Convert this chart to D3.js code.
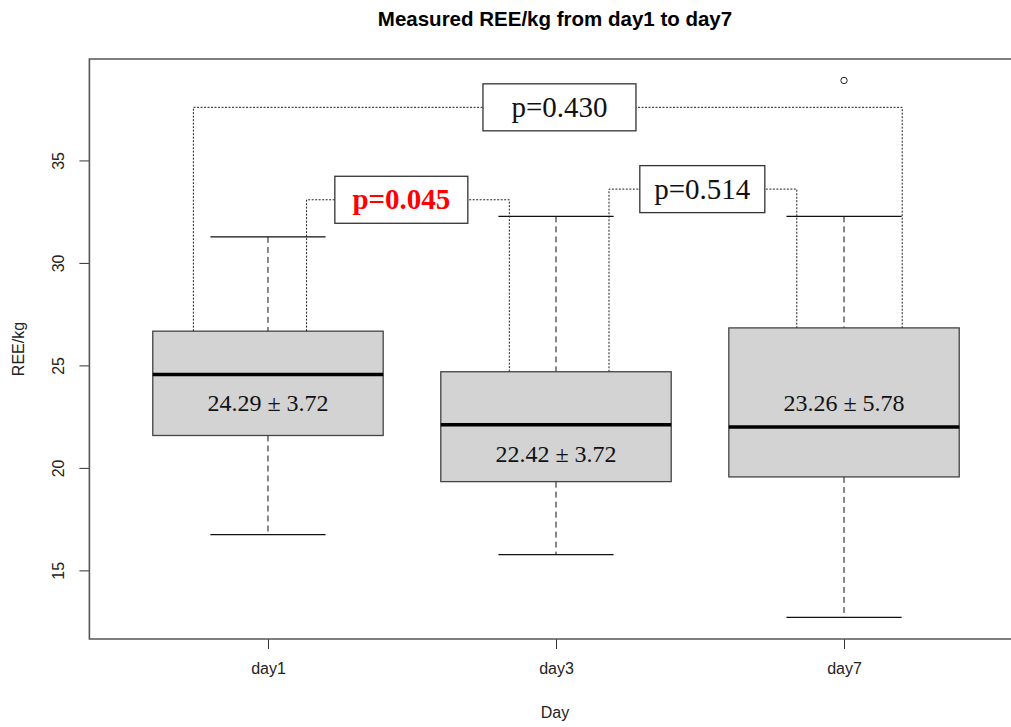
<!DOCTYPE html>
<html>
<head>
<meta charset="utf-8">
<script src="https://cdn.jsdelivr.net/npm/d3@7"></script>
<style>
  body { margin: 0; background: #fff; overflow: hidden; }
  svg { display: block; }
</style>
</head>
<body>
<div id="chart"></div>
<script>
// values
const days = ["day1", "day3", "day7"];
const whiskerLow = [16.74, 15.77, 12.71];
const q1 = [21.58, 19.33, 19.56];
const medians = [24.55, 22.10, 22.00];
const q3 = [26.67, 24.69, 26.83];
const whiskerHigh = [31.27, 32.27, 32.27];
const outliers = [[], [], [38.9]];
const meanSd = ["24.29 \u00b1 3.72", "22.42 \u00b1 3.72", "23.26 \u00b1 5.78"];
const meanSdAt = [23.17, 20.72, 23.2];

// pairwise comparisons
const pairs = [[0, 1], [1, 2], [0, 2]];
const pValues = ["p=0.045", "p=0.514", "p=0.430"];
const significant = [true, false, false];
const bracketY = [33.08, 33.60, 37.59];
const legX = [[1.134, 1.838], [2.184, 2.836], [0.741, 3.202]];
const labelX = [1.463, 2.508, 2.012];
const yTicks = [15, 20, 25, 30, 35];

const W = 1011, H = 727;
const svg = d3.select("#chart").append("svg")
  .attr("width", W).attr("height", H)
  .style("font-family", "'Liberation Sans', Arial, sans-serif");

// R style: xlim 0.5..3.5 stretched by 4%
const x = d3.scaleLinear().domain([0.38, 3.62]).range([89.4, 1022.6]);
const y = d3.scaleLinear().domain([11.652, 39.948]).range([639, 59]);
const unit = x(2) - x(1);
const boxW = 0.8 * unit;
const capW = 0.4 * unit;

// title
svg.append("text")
  .attr("x", 555).attr("y", 26)
  .attr("text-anchor", "middle")
  .style("font-weight", "bold").style("font-size", "20.5px")
  .text("Measured REE/kg from day1 to day7");

// axes
const yAxis = d3.axisLeft(y).tickValues(yTicks).tickSize(10).tickPadding(8);
const gy = svg.append("g").attr("transform", `translate(${x.range()[0]},0)`).call(yAxis);
gy.select(".domain").remove();
gy.selectAll(".tick line").attr("stroke", "#333");
gy.selectAll(".tick text")
  .attr("transform", "rotate(-90)")
  .attr("x", 0).attr("y", -31)
  .attr("dy", "0.35em")
  .attr("text-anchor", "middle")
  .style("font-size", "16px").style("font-family", "'Liberation Sans', Arial, sans-serif")
  .attr("fill", "#222");

const xAxis = d3.axisBottom(x).tickValues([1, 2, 3]).tickFormat((d, i) => days[i]).tickSize(10).tickPadding(14);
const gx = svg.append("g").attr("transform", `translate(0,${y.range()[0]})`).call(xAxis);
gx.select(".domain").remove();
gx.selectAll(".tick line").attr("stroke", "#333");
gx.selectAll(".tick text")
  .style("font-size", "16px").style("font-family", "'Liberation Sans', Arial, sans-serif")
  .attr("fill", "#222");

svg.append("text")
  .attr("x", 555).attr("y", 718)
  .attr("text-anchor", "middle")
  .style("font-size", "16px").attr("fill", "#222")
  .text("Day");

svg.append("text")
  .attr("transform", "translate(24,349) rotate(-90)")
  .attr("text-anchor", "middle")
  .style("font-size", "16px").attr("fill", "#222")
  .text("REE/kg");

// plot frame (right side falls outside the window)
const [fx0, fx1] = x.range();
const [fy1, fy0] = y.range();
svg.append("path")
  .attr("d", `M${fx1},${fy0}H${fx0}V${fy1}H${fx1}`)
  .attr("fill", "none").attr("stroke", "#555").attr("stroke-width", 1.6);

// boxes
const box = svg.selectAll(".box")
  .data(days)
  .join("g")
  .attr("class", "box");

box.each(function(d, i) {
  const g = d3.select(this);
  const cx = x(i + 1);

  // whiskers
  g.append("line")
    .attr("x1", cx).attr("x2", cx)
    .attr("y1", y(whiskerHigh[i])).attr("y2", y(q3[i]))
    .attr("stroke", "#111").attr("stroke-dasharray", "6,4");
  g.append("line")
    .attr("x1", cx).attr("x2", cx)
    .attr("y1", y(q1[i])).attr("y2", y(whiskerLow[i]))
    .attr("stroke", "#111").attr("stroke-dasharray", "6,4");
  [whiskerHigh[i], whiskerLow[i]].forEach(v => {
    g.append("line")
      .attr("x1", cx - capW / 2).attr("x2", cx + capW / 2)
      .attr("y1", y(v)).attr("y2", y(v))
      .attr("stroke", "#111").attr("stroke-width", 1.3);
  });

  g.append("rect")
    .attr("x", cx - boxW / 2).attr("width", boxW)
    .attr("y", y(q3[i])).attr("height", y(q1[i]) - y(q3[i]))
    .attr("fill", "#d3d3d3").attr("stroke", "#444").attr("stroke-width", 1.3);

  g.append("line")
    .attr("x1", cx - boxW / 2).attr("x2", cx + boxW / 2)
    .attr("y1", y(medians[i])).attr("y2", y(medians[i]))
    .attr("stroke", "#000").attr("stroke-width", 3.5);

  g.selectAll("circle")
    .data(outliers[i])
    .join("circle")
    .attr("cx", cx).attr("cy", v => y(v))
    .attr("r", 3.2)
    .attr("fill", "none").attr("stroke", "#222");

  g.append("text")
    .attr("x", cx).attr("y", y(meanSdAt[i]))
    .attr("dy", "0.35em")
    .attr("text-anchor", "middle")
    .style("font-family", "'Liberation Serif', 'Times New Roman', serif")
    .style("font-size", "24px").attr("fill", "#111")
    .text(meanSd[i]);
});

// comparison brackets
const labelBoxW = [133, 125, 153];
const labelBoxH = 47;
pairs.forEach(([a, b], k) => {
  const by = y(bracketY[k]);
  const [lx0, lx1] = legX[k];
  const path = d3.path();
  path.moveTo(x(lx0), y(q3[a]));
  path.lineTo(x(lx0), by);
  path.lineTo(x(lx1), by);
  path.lineTo(x(lx1), y(q3[b]));
  svg.append("path")
    .attr("d", path.toString())
    .attr("fill", "none").attr("stroke", "#222").attr("stroke-width", 1)
    .attr("stroke-dasharray", "2,1.5");

  const cx = x(labelX[k]);
  svg.append("rect")
    .attr("x", cx - labelBoxW[k] / 2).attr("y", by - labelBoxH / 2)
    .attr("width", labelBoxW[k]).attr("height", labelBoxH)
    .attr("fill", "#fff").attr("stroke", "#333").attr("stroke-width", 1.3);
  svg.append("text")
    .attr("x", cx).attr("y", by)
    .attr("dy", "0.33em")
    .attr("text-anchor", "middle")
    .style("font-family", "'Liberation Serif', 'Times New Roman', serif")
    .style("font-size", "29px")
    .style("font-weight", significant[k] ? "bold" : "normal")
    .attr("fill", significant[k] ? "#ff0000" : "#111")
    .text(pValues[k]);
});
</script>
</body>
</html>
